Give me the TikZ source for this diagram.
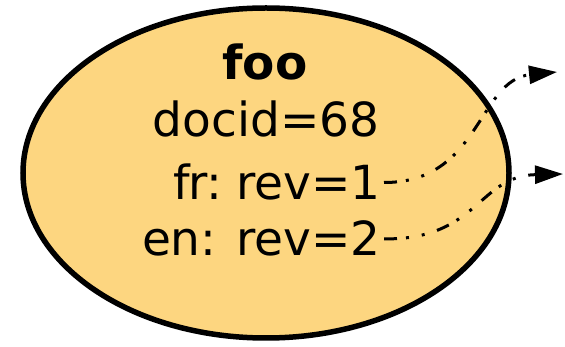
\documentclass[tikz,border=0pt]{standalone}
\usepackage{fontspec}
\setmainfont{DejaVu Sans}
\usetikzlibrary{shapes.geometric,arrows.meta}

\definecolor{docfill}{RGB}{253,214,128}

\begin{document}
\begin{tikzpicture}[x=1pt,y=-1pt,
  field/.style={inner sep=0pt,font=\fontsize{47}{56}\selectfont},
  revlink/.style={line width=3pt,dash pattern=on 13pt off 9pt on 3pt off 13pt on 3pt off 13pt,
    -{Triangle[length=28pt,width=18pt]}}]
\useasboundingbox (0,0) rectangle (565,347);

% the document record
\node[ellipse,draw,line width=5.5pt,fill=docfill,minimum width=486pt,minimum height=330pt] (doc) at (266,173) {};

\node[field,anchor=base,font=\fontsize{47}{56}\selectfont\bfseries] (name) at (265,80) {foo};
\node[field,anchor=base] (docid) at (266,137) {docid=68};
\node[field,anchor=base east] (fr) at (381,200) {f\kern-2pt r:\kern-1pt\ rev=1};
\node[field,anchor=base east] (en) at (381,256) {en: rev=2};

% revision links
\coordinate (frrev) at (557,72);
\coordinate (enrev) at (563,174);
\draw[revlink] ([xshift=3pt]fr.east) .. controls (480,183) and (478,80) .. (frrev);
\draw[revlink] ([xshift=3pt]en.east) .. controls (478,240) and (478,176) .. (enrev);
\end{tikzpicture}
\end{document}
